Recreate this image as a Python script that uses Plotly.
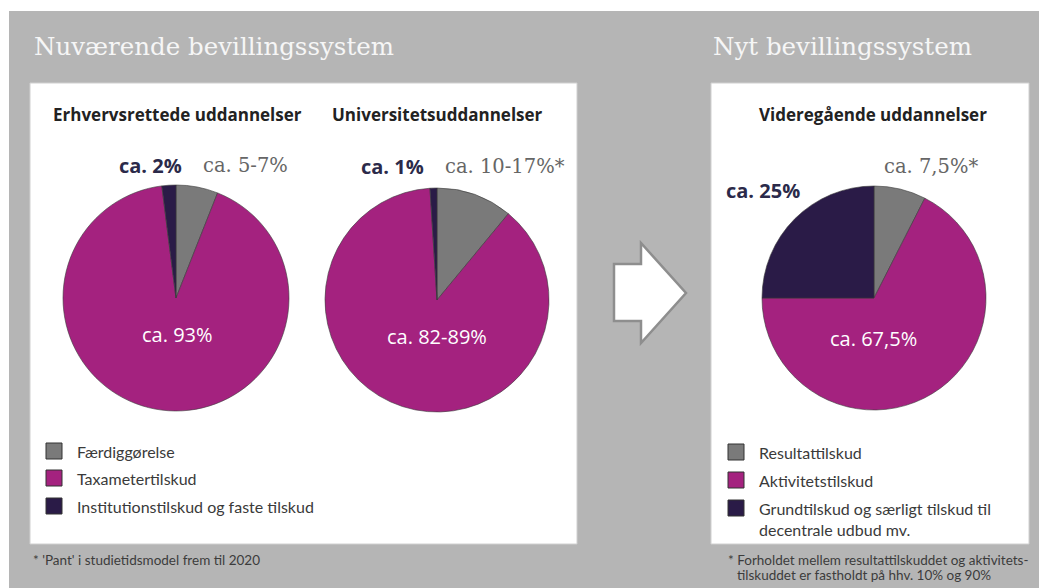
import plotly.graph_objects as go

# page body has an 8px margin: figure drawn at (8,8)
OFF = 8
W, H = 1047 - OFF, 588 - OFF

# ---- data ----
cats_current = ["Færdiggørelse", "Taxametertilskud", "Institutionstilskud og faste tilskud"]
erhverv_values = [6, 92, 2]
univ_values = [11, 88, 1]
cats_new = ["Resultattilskud", "Aktivitetstilskud", "Grundtilskud og særligt tilskud til<br>decentrale udbud mv."]
videre_values = [7.5, 67.5, 25]
slice_colors = ["#7a7a7a", "#a4227f", "#2a1b47"]

def px(x):
    return (x - OFF) / W

def py(y):
    return 1 - (y - OFF) / H

def dom(cx, cy, r):
    return dict(x=[px(cx - r), px(cx + r)], y=[py(cy + r), py(cy - r)])

fig = go.Figure()
for vals, labels, (cx, cy, r), name in [
    (erhverv_values, cats_current, (176, 298, 113), "Erhvervsrettede uddannelser"),
    (univ_values, cats_current, (437, 300, 112), "Universitetsuddannelser"),
    (videre_values, cats_new, (874, 298, 112), "Videregående uddannelser"),
]:
    fig.add_trace(go.Pie(
        values=vals, labels=labels, name=name, sort=False, direction="clockwise",
        rotation=0, textinfo="none", hoverinfo="label+percent",
        marker=dict(colors=slice_colors, line=dict(color="#3a3a3a", width=0.6)),
        domain=dom(cx, cy, r), showlegend=False,
    ))

shapes = []
# gray background
shapes.append(dict(type="rect", xref="paper", yref="paper", x0=px(9), x1=px(1047), y0=py(588), y1=py(11),
                   fillcolor="#b5b5b5", line=dict(width=0), layer="below"))
# white panels
shapes.append(dict(type="rect", xref="paper", yref="paper", x0=px(30), x1=px(577), y0=py(544), y1=py(83),
                   fillcolor="white", line=dict(color="#d0d0d0", width=1), layer="below"))
shapes.append(dict(type="rect", xref="paper", yref="paper", x0=px(711), x1=px(1029), y0=py(544), y1=py(83),
                   fillcolor="white", line=dict(color="#d0d0d0", width=1), layer="below"))
# arrow
pts = [(614, 264), (641, 264), (641, 243), (686, 293), (641, 343), (641, 321), (614, 321)]
path = "M " + " L ".join(f"{px(x)},{py(y)}" for x, y in pts) + " Z"
shapes.append(dict(type="path", xref="paper", yref="paper", path=path, fillcolor="white",
                   line=dict(color="#8e8e8e", width=2.5)))

annotations = []

def txt(x, y, s, size, color, family, xanchor="left", bold=False):
    if bold:
        s = f"<b>{s}</b>"
    annotations.append(dict(x=px(x), y=py(y), xref="paper", yref="paper", text=s, showarrow=False,
                            xanchor=xanchor, yanchor="middle",
                            font=dict(size=size, color=color, family=family)))

SERIF = "DejaVu Serif"
SANS = "Open Sans"
# titles
txt(32, 47, "Nuværende bevillingssystem", 24.5, "#f6f6f6", SERIF)
txt(711, 47, "Nyt bevillingssystem", 24.5, "#f6f6f6", SERIF)
# subtitles
txt(177, 115, "Erhvervsrettede uddannelser", 17, "#222222", SANS, "center", True)
txt(437, 115, "Universitetsuddannelser", 17, "#222222", SANS, "center", True)
txt(873, 115, "Videregående uddannelser", 17, "#222222", SANS, "center", True)
# outer labels
txt(184, 165, "ca. 2%", 20, "#2b2a4a", SANS, "right", True)
txt(201, 165, "ca. 5-7%", 19.5, "#666666", SERIF)
txt(426, 166, "ca. 1%", 20, "#2b2a4a", SANS, "right", True)
txt(443, 166, "ca. 10-17%*", 19.5, "#666666", SERIF)
txt(882, 167, "ca. 7,5%*", 19.5, "#666666", SERIF)
txt(724, 190, "ca. 25%", 20, "#2b2a4a", SANS, "left", True)
# inner labels
txt(177, 334, "ca. 93%", 20, "white", SANS, "center")
txt(437, 336, "ca. 82-89%", 20, "white", SANS, "center")
txt(873, 338, "ca. 67,5%", 20, "white", SANS, "center")

# legends
LEG_FONT = dict(size=16, color="#3a3a3a", family="Lato")

def legend(x0, ys, labels, textx):
    for y, lab, col in zip(ys, labels, slice_colors):
        shapes.append(dict(type="rect", xref="paper", yref="paper", x0=px(x0), x1=px(x0 + 16),
                           y0=py(y + 8), y1=py(y - 8), fillcolor=col, line=dict(color="#333333", width=1)))
        multi = "<br>" in lab
        annotations.append(dict(x=px(textx), y=py(y - 11 if multi else y), xref="paper", yref="paper",
                                text=lab, showarrow=False, xanchor="left",
                                yanchor="top" if multi else "middle", align="left", font=LEG_FONT))

legend(46, [451, 478, 506], cats_current, 75)
legend(728, [452, 480, 508], cats_new, 757)

# footnotes
FOOT = dict(size=13.5, color="#3c3c3c", family="Lato")
annotations.append(dict(x=px(31), y=py(560), xref="paper", yref="paper", showarrow=False, xanchor="left",
                        yanchor="middle", text="* 'Pant' i studietidsmodel frem til 2020", font=FOOT))
annotations.append(dict(x=px(726), y=py(560), xref="paper", yref="paper", showarrow=False, xanchor="left",
                        yanchor="middle", text="* Forholdet mellem resultattilskuddet og aktivitets-", font=FOOT))
annotations.append(dict(x=px(735), y=py(575), xref="paper", yref="paper", showarrow=False, xanchor="left",
                        yanchor="middle", text="tilskuddet er fastholdt på hhv. 10% og 90%", font=FOOT))

fig.update_layout(width=W, height=H, margin=dict(l=0, r=0, t=0, b=0), paper_bgcolor="white",
                  plot_bgcolor="white", shapes=shapes, annotations=annotations, showlegend=False)
fig.write_html("out.html")
